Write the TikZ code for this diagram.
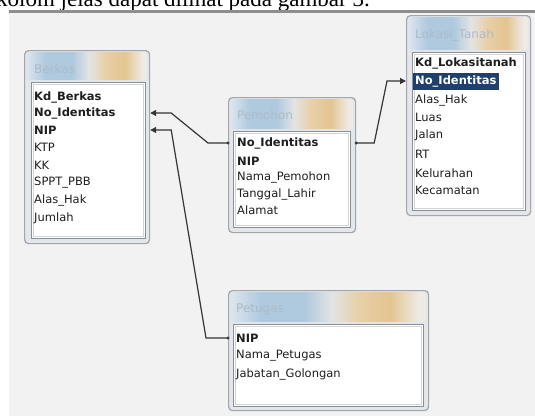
\documentclass[tikz,border=0pt]{standalone}
\usepackage{fontspec}
\newfontfamily\tahfont{DejaVu Sans}
\newfontfamily\capfont{Liberation Serif}
\usetikzlibrary{calc,arrows.meta}
\definecolor{panelcol}{HTML}{F2F2F2}
\definecolor{sepcol}{HTML}{8E8E8E}
\definecolor{framedraw}{HTML}{A2A6AA}
\definecolor{framefill}{HTML}{E3E7EB}
\definecolor{listdraw}{HTML}{8C8F92}
\definecolor{listinner}{HTML}{D2D4D6}
\definecolor{titletext}{HTML}{AEBBC8}
\definecolor{rowtext}{HTML}{1E1E1E}
\definecolor{hilite}{HTML}{1F3F6C}
\definecolor{linecol}{HTML}{353535}
\definecolor{tbA}{HTML}{DDE6EE}
\definecolor{tbB}{HTML}{AFC9DF}
\definecolor{tbC}{HTML}{E2E4E5}
\definecolor{tbD}{HTML}{E8CFA6}
\definecolor{tbE}{HTML}{E4C592}
\definecolor{tbF}{HTML}{EEEAE4}
\pgfdeclarehorizontalshading{titlebar}{100bp}{color(0bp)=(tbA); color(25bp)=(tbA); color(33bp)=(tbB); color(44bp)=(tbB); color(51bp)=(tbC); color(58bp)=(tbD); color(66bp)=(tbE); color(73bp)=(tbF); color(100bp)=(tbF)}
\newcommand\rowf{\tahfont\fontsize{11.5}{13}\selectfont}
\newcommand\titf{\tahfont\fontsize{12}{13}\selectfont}
\tikzset{
  framebox/.style={draw=framedraw, fill=framefill, line width=1.2, rounded corners=4, anchor=north west, inner sep=0},
  titlebg/.style={shading=titlebar, rounded corners=3},
  listbox/.style={draw=listdraw, fill=white, line width=1},
  listline/.style={draw=listinner, line width=0.6},
  titlelbl/.style={anchor=west, inner sep=0, font=\titf, text=titletext},
  row/.style={anchor=west, inner sep=0, font=\rowf, text=rowtext},
  keyrow/.style={row, font=\rowf\bfseries},
  selrow/.style={anchor=west, inner xsep=2, inner ysep=0, minimum height=17, font=\rowf\bfseries, text=white, fill=hilite},
  conn/.style={draw=linecol, line width=1.2, -{Triangle[length=6,width=6]}},
  startdot/.style={fill=linecol}
}
\begin{document}
\begin{tikzpicture}[x=1pt,y=-1pt]
\useasboundingbox (0,0) rectangle (535,416);
% caption strip (cut off at top)
\begin{scope}
\clip (0,0) rectangle (535,10.5);
\node[anchor=base east, inner sep=0, font=\capfont\fontsize{23}{23}\selectfont] (caption) at (370,6.5) {kolom jelas dapat dilihat pada gambar 3.};
\end{scope}
\fill[panelcol] (9,12) rectangle (535,416);
\fill[sepcol] (9,10) rectangle (535,12.5);

% ---------- Berkas ----------
\node[framebox, minimum width=125, minimum height=193] (berkas) at (24,50) {};
\path[titlebg] (26,52) rectangle (147,80);
\path[listbox] (31,82) rectangle (145,238);
\path[listline] (33,84) rectangle (143,236);
\node[titlelbl] (berkas-t) at (34,69) {Berkas};
\node[keyrow] (bk1) at (34,97) {Kd\_Berkas};
\node[keyrow] (bk2) at (34,113) {No\_Identitas};
\node[keyrow] (bk3) at (34,130) {NIP};
\node[row] (bk4) at (34,147) {KTP};
\node[row] (bk5) at (34,165) {KK};
\node[row] (bk6) at (34,183) {SPPT\_PBB};
\node[row] (bk7) at (34,200) {Alas\_Hak};
\node[row] (bk8) at (34,218) {Jumlah};

% ---------- Pemohon ----------
\node[framebox, minimum width=127, minimum height=135] (pemohon) at (228,97) {};
\path[titlebg] (230,99) rectangle (353,129);
\path[listbox] (233,131) rectangle (350,227);
\path[listline] (235,133) rectangle (348,225);
\node[titlelbl] (pemohon-t) at (237,115) {Pemohon};
\node[keyrow] (pm1) at (237,143) {No\_Identitas};
\node[keyrow] (pm2) at (237,161) {NIP};
\node[row] (pm3) at (237,177) {Nama\_Pemohon};
\node[row] (pm4) at (237,194) {Tanggal\_Lahir};
\node[row] (pm5) at (237,210) {Alamat};

% ---------- Lokasi_Tanah ----------
\node[framebox, minimum width=124, minimum height=200] (lokasi) at (406,15) {};
\path[titlebg] (408,17) rectangle (528,50);
\path[listbox] (412,52) rectangle (525,210);
\path[listline] (414,54) rectangle (523,208);
\node[titlelbl] (lokasi-t) at (415,35) {Lokasi\_Tanah};
\node[keyrow] (lk1) at (415,63) {Kd\_Lokasitanah};
\node[selrow] (lk2) at (413,81) {No\_Identitas};
\node[row] (lk3) at (415,100) {Alas\_Hak};
\node[row] (lk4) at (415,117) {Luas};
\node[row] (lk5) at (415,135) {Jalan};
\node[row] (lk6) at (415,154) {RT};
\node[row] (lk7) at (415,173) {Kelurahan};
\node[row] (lk8) at (415,190) {Kecamatan};

% ---------- Petugas ----------
\node[framebox, minimum width=200, minimum height=120] (petugas) at (228,290) {};
\path[titlebg] (230,292) rectangle (426,322);
\path[listbox] (233,324) rectangle (423,406);
\path[listline] (235,326) rectangle (421,404);
\node[titlelbl] (petugas-t) at (236,309) {Petugas};
\node[keyrow] (pt1) at (236,338) {NIP};
\node[row] (pt2) at (236,356) {Nama\_Petugas};
\node[row] (pt3) at (236,374) {Jabatan\_Golongan};

% ---------- connectors ----------
\draw[conn] (pemohon.west |- pm1) -- ++(-20,0) -- ($(berkas.east |- bk2)+(21,0)$) -- (berkas.east |- bk2);
\fill[startdot] (pemohon.west |- pm1) circle (1.6);
\draw[conn] (petugas.west |- pt1) -- ++(-22,0) -- ($(berkas.east |- bk3)+(21,0)$) -- (berkas.east |- bk3);
\fill[startdot] (petugas.west |- pt1) circle (1.6);
\draw[conn] (pemohon.east |- pm1) -- ++(18,0) -- ($(lokasi.west |- lk2)+(-19,0)$) -- (lokasi.west |- lk2);
\fill[startdot] (pemohon.east |- pm1) circle (1.6);
\end{tikzpicture}
\end{document}
